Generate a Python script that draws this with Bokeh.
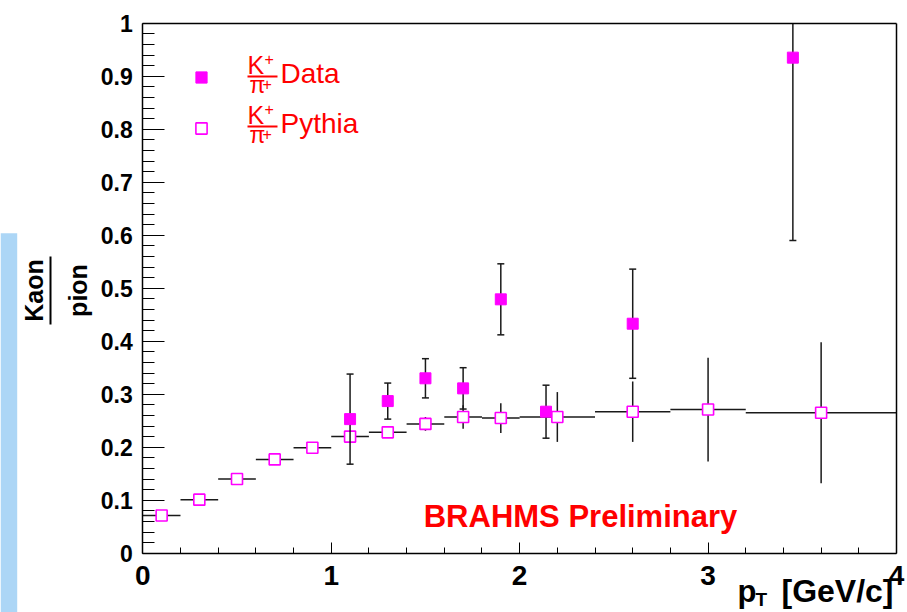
from math import pi
from bokeh.plotting import figure
from bokeh.models import (Range1d, FixedTicker, Label, BoxAnnotation, Legend, LegendItem,
                          LinearAxis)
from bokeh.embed import file_html
from bokeh.resources import INLINE

# ---------------- data ----------------
# Pythia K+/pi+ (open squares), bins in pT
pythia_pt = [0.1, 0.3, 0.5, 0.7, 0.9, 1.1, 1.3, 1.5, 1.7, 1.9, 2.2, 2.6, 3.0, 3.6]
pythia_lo = [0.0, 0.2, 0.4, 0.6, 0.8, 1.0, 1.2, 1.4, 1.6, 1.8, 2.0, 2.4, 2.8, 3.2]
pythia_hi = [0.2, 0.4, 0.6, 0.8, 1.0, 1.2, 1.4, 1.6, 1.8, 2.0, 2.4, 2.8, 3.2, 4.0]
pythia_ratio = [0.071, 0.101, 0.140, 0.177, 0.199, 0.220, 0.228, 0.244, 0.257, 0.255,
                0.257, 0.267, 0.271, 0.265]
pythia_err = [0.0, 0.0, 0.0, 0.0, 0.0, 0.004, 0.005, 0.013, 0.022, 0.028,
              0.047, 0.057, 0.098, 0.133]

# BRAHMS data K+/pi+ (filled squares)
data_pt = [1.1, 1.3, 1.5, 1.7, 1.9, 2.14, 2.6, 3.45]
data_ratio = [0.253, 0.287, 0.330, 0.311, 0.479, 0.267, 0.433, 0.935]
data_err = [0.085, 0.034, 0.037, 0.039, 0.067, 0.050, 0.103, 0.345]

x_ticks = [0, 1, 2, 3, 4]
x_minor = [0.2, 0.4, 0.6, 0.8, 1.2, 1.4, 1.6, 1.8, 2.2, 2.4, 2.6, 2.8,
           3.2, 3.4, 3.6, 3.8]
y_ticks = [0, 0.1, 0.2, 0.3, 0.4, 0.5, 0.6, 0.7, 0.8, 0.9, 1]
y_tick_labels = ["0", "0.1", "0.2", "0.3", "0.4", "0.5", "0.6", "0.7", "0.8", "0.9", "1"]
y_minor = [round(i * 0.02, 2) for i in range(51) if i % 5 != 0]

X_MIN, X_MAX = 0.0, 4.0
Y_MIN, Y_MAX = 0.0, 1.0

MAG = "#ff00ff"
RED = "#ff0000"
ERR = "#1a1a1a"
FONT = "Liberation Sans"

# ---------------- layout (pixels of the 907x612 picture) ----------------
W, H = 907, 612
FL, FR, FT, FB = 142.3, 896.0, 22.7, 552.7   # plot box edges in pixels

def X(px):
    return X_MIN + (px - FL) / (FR - FL) * (X_MAX - X_MIN)

def Y(py):
    return Y_MIN + (FB - py) / (FB - FT) * (Y_MAX - Y_MIN)

p = figure(width=W, height=H, x_range=Range1d(X(0), X(W)), y_range=Range1d(Y(H), Y(0)),
           output_backend="svg", toolbar_location=None, title=None, x_axis_type=None,
           y_axis_type=None, min_border=0, min_border_left=0, min_border_right=0,
           min_border_top=0, min_border_bottom=0)
p.background_fill_color = "white"
p.border_fill_color = "white"
p.outline_line_color = None
p.xgrid.visible = False
p.ygrid.visible = False

# main axes, pinned to the plot box
xa = LinearAxis(fixed_location=Y_MIN, bounds=(X_MIN, X_MAX),
                ticker=FixedTicker(ticks=x_ticks, minor_ticks=x_minor))
xa.major_tick_in, xa.major_tick_out = 11, 0
xa.minor_tick_in, xa.minor_tick_out = 6, 0
xa.major_label_standoff = 13
xa.major_label_text_font = FONT
xa.major_label_text_font_style = "bold"
xa.major_label_text_font_size = "28px"
xa.major_label_text_color = "black"
xa.axis_line_width = 1.5
xa.axis_line_color = "black"
p.add_layout(xa, "below")

ya = LinearAxis(fixed_location=X_MIN, bounds=(Y_MIN, Y_MAX),
                ticker=FixedTicker(ticks=y_ticks, minor_ticks=y_minor))
ya.major_label_overrides = {t: s for t, s in zip(y_ticks, y_tick_labels)}
ya.major_tick_in, ya.major_tick_out = 22, 0
ya.minor_tick_in, ya.minor_tick_out = 12, 0
ya.major_label_standoff = 10
ya.major_label_text_font = FONT
ya.major_label_text_font_style = "bold"
ya.major_label_text_font_size = "23px"
ya.major_label_text_color = "black"
ya.axis_line_width = 1.5
ya.axis_line_color = "black"
p.add_layout(ya, "left")

# top and right edges of the plot box
for loc, fixed, bnds in (("above", Y_MAX, (X_MIN, X_MAX)), ("right", X_MAX, (Y_MIN, Y_MAX))):
    ax = LinearAxis(fixed_location=fixed, bounds=bnds, ticker=FixedTicker(ticks=[]))
    ax.axis_line_width = 1.5
    ax.axis_line_color = "black"
    ax.major_tick_line_color = None
    ax.minor_tick_line_color = None
    ax.major_label_text_font_size = "0px"
    p.add_layout(ax, loc)

# ---------------- marks ----------------
pythia_y0 = [v - e for v, e in zip(pythia_ratio, pythia_err)]
pythia_y1 = [v + e for v, e in zip(pythia_ratio, pythia_err)]
p.segment(x0=pythia_lo, x1=pythia_hi, y0=pythia_ratio, y1=pythia_ratio,
          line_color=ERR, line_width=1.5)
p.segment(x0=pythia_pt, x1=pythia_pt, y0=pythia_y0, y1=pythia_y1,
          line_color=ERR, line_width=1.5)
r_py = p.scatter(pythia_pt, pythia_ratio, marker="square", size=11,
                 fill_color="white", line_color=MAG, line_width=1.6)

# error bars are cut at the top of the plot box
data_y0 = [max(v - e, Y_MIN) for v, e in zip(data_ratio, data_err)]
data_y1 = [min(v + e, Y_MAX) for v, e in zip(data_ratio, data_err)]
cap_hi_x = [x for x, v, e in zip(data_pt, data_ratio, data_err) if v + e <= Y_MAX]
cap_hi_y = [v + e for v, e in zip(data_ratio, data_err) if v + e <= Y_MAX]
p.segment(x0=data_pt, x1=data_pt, y0=data_y0, y1=data_y1, line_color=ERR, line_width=1.5)
p.scatter(data_pt, data_y0, marker="dash", size=7, line_color=ERR, line_width=1.5)
p.scatter(cap_hi_x, cap_hi_y, marker="dash", size=7, line_color=ERR, line_width=1.5)
r_da = p.scatter(data_pt, data_ratio, marker="square", size=11,
                 fill_color=MAG, line_color=MAG)

# ---------------- legend ----------------
leg = Legend(items=[LegendItem(label=" ", renderers=[r_da]),
                    LegendItem(label=" ", renderers=[r_py])],
             location=(187, 470), glyph_width=28, glyph_height=28, spacing=23,
             padding=0, margin=0, border_line_alpha=0, background_fill_alpha=0,
             label_text_font_size="8px", label_height=10, label_width=1,
             label_standoff=0)
p.add_layout(leg, "center")

MID = 0.35  # distance from text middle to baseline, in em

def lab(px, py_base, text, size, color="black", bold=False, align="left", angle=0.0):
    if angle:
        x, y = X(px - MID * size), Y(py_base)
    else:
        x, y = X(px), Y(py_base - MID * size)
    p.add_layout(Label(x=x, y=y, text=text, text_font=FONT,
                       text_font_size=f"{size}px", text_color=color,
                       text_font_style="bold" if bold else "normal",
                       text_align=align, text_baseline="middle", angle=angle))

legend_names = ["Data", "Pythia"]
for i, name in enumerate(legend_names):
    dy = 50 * i
    lab(247, 73 + dy, "K", 25, RED)
    lab(264, 64 + dy, "+", 16, RED)
    lab(249, 93 + dy, "\u03c0", 23, RED)
    lab(262, 89 + dy, "+", 16, RED)
    p.add_layout(BoxAnnotation(left=X(247), right=X(277), bottom=Y(77 + dy), top=Y(75 + dy),
                               fill_color=RED, fill_alpha=1, line_alpha=0))
    lab(280, 83 + dy, name, 28, RED)

lab(580, 526.5, "BRAHMS Preliminary", 31, RED, bold=True, align="center")

# axis titles
lab(737, 602, "p", 31, bold=True)
lab(755, 606, "T", 19, bold=True)
lab(893, 602, "[GeV/c]", 32, bold=True, align="right")

lab(42, 290, "Kaon", 25, bold=True, align="center", angle=pi / 2)
lab(86, 290, "pion", 25, bold=True, align="center", angle=pi / 2)
p.add_layout(BoxAnnotation(left=X(49), right=X(51), bottom=Y(324), top=Y(256),
                           fill_color="black", fill_alpha=1, line_alpha=0))

# light blue strip on the left edge
p.add_layout(BoxAnnotation(left=X(0), right=X(16.7), bottom=Y(H), top=Y(232.7),
                           fill_color="#acd6f6", fill_alpha=1, line_alpha=0))

open("out.html", "w").write(file_html(p, INLINE))
